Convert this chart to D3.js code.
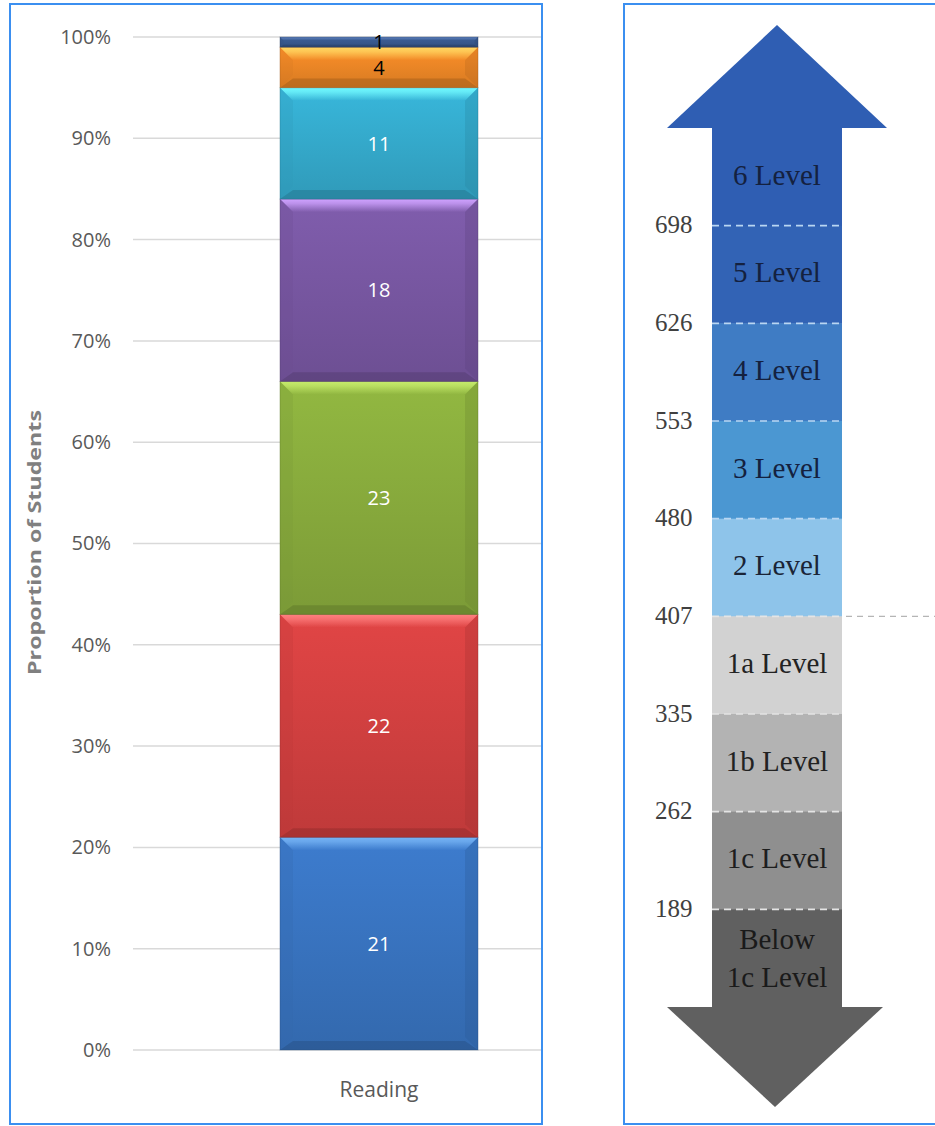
<!DOCTYPE html>
<html>
<head>
<meta charset="utf-8">
<script src="https://cdn.jsdelivr.net/npm/d3@7"></script>
<style>
html,body{margin:0;padding:0;background:#fff;}
svg{display:block;}
</style>
</head>
<body>
<svg id="chart" width="935" height="1126"></svg>
<script>
// ---------- DATA ----------
const categories = ["Reading"];
const segmentValues = [21, 22, 23, 18, 11, 4, 1];          // bottom to top, % of students
const segmentLabels = ["21", "22", "23", "18", "11", "4", "1"];
const segmentColors = ["#3a77c5", "#d84242", "#8cb03e", "#7b59a6", "#36afd2", "#f28a27", "#3a5c92"];
const segmentHighlights = ["#76b4f5", "#ff8080", "#c6ec6c", "#cfa2ff", "#72faff", "#ffd862", "#5a7cb8"];
const segmentLabelColors = ["#ffffff", "#ffffff", "#ffffff", "#ffffff", "#ffffff", "#000000", "#000000"];
const yTicks = [0, 10, 20, 30, 40, 50, 60, 70, 80, 90, 100];
const yTitle = "Proportion of Students";

const levels = ["6 Level", "5 Level", "4 Level", "3 Level", "2 Level", "1a Level", "1b Level", "1c Level", "Below 1c Level"];
const levelColors = ["#2f5eb3", "#3263b5", "#3f7cc4", "#4b97d2", "#8ec4ea", "#d2d2d2", "#b3b3b3", "#8f8f8f", "#606060"];
const levelTextColors = ["#14213f", "#14213f", "#14213f", "#14213f", "#1a2436", "#222222", "#222222", "#1e1e1e", "#1a1a1a"];
const cutScores = [698, 626, 553, 480, 407, 335, 262, 189];  // boundary below each level

// ---------- SETUP ----------
const svg = d3.select("#chart");
const defs = svg.append("defs");
const sansFont = "'Open Sans', 'DejaVu Sans', sans-serif";
const serifFont = "'Liberation Serif', 'DejaVu Serif', serif";

// ---------- LEFT PANEL ----------
const y = d3.scaleLinear().domain([0, 100]).range([1050, 37]);
const x = d3.scaleBand().domain(categories).range([133, 625]).paddingInner(0.426).paddingOuter(0.426);

const left = svg.append("g");
left.append("clipPath").attr("id", "leftClip").append("rect")
  .attr("x", 11).attr("y", 5).attr("width", 530).attr("height", 1118);

const grid = left.append("g").attr("clip-path", "url(#leftClip)");
grid.selectAll("line").data(yTicks).join("line")
  .attr("x1", 133).attr("x2", 625)
  .attr("y1", d => y(d)).attr("y2", d => y(d))
  .attr("stroke", "#d9d9d9").attr("stroke-width", 1.5);

const yAxis = d3.axisLeft(y).tickValues(yTicks).tickFormat(d => d + "%").tickSize(0).tickPadding(0);
const yg = left.append("g").attr("transform", "translate(111,0)").call(yAxis);
yg.select(".domain").remove();
yg.selectAll("text").attr("font-family", sansFont).attr("font-size", 20).attr("fill", "#595959");

left.append("text")
  .attr("transform", `translate(41,${(410 + 675) / 2}) rotate(-90)`)
  .attr("text-anchor", "middle")
  .attr("font-family", sansFont).attr("font-weight", "bold").attr("font-size", 17)
  .attr("textLength", 265).attr("lengthAdjust", "spacingAndGlyphs")
  .attr("fill", "#808080").text(yTitle);

const xAxis = d3.axisBottom(x).tickSize(0).tickPadding(0);
const xg = left.append("g").attr("transform", "translate(0,1082)").call(xAxis);
xg.select(".domain").remove();
xg.selectAll("text").attr("font-family", sansFont).attr("font-size", 21).attr("fill", "#595959").attr("dy", "0.71em");

let acc = 0;
const segs = segmentValues.map((v, i) => { const s = { i, v, y0: acc, y1: acc + v }; acc += v; return s; });

function darker(c, k) { return d3.color(c).darker(k).formatHex(); }
function brighter(c, k) { return d3.color(c).brighter(k).formatHex(); }

segs.forEach(s => {
  const g = defs.append("linearGradient").attr("id", "bodyGrad" + s.i).attr("x1", 0).attr("x2", 0).attr("y1", 0).attr("y2", 1);
  g.append("stop").attr("offset", "0%").attr("stop-color", brighter(segmentColors[s.i], 0.12));
  g.append("stop").attr("offset", "100%").attr("stop-color", darker(segmentColors[s.i], 0.35));
  const h = defs.append("linearGradient").attr("id", "hiGrad" + s.i).attr("x1", 0).attr("x2", 0).attr("y1", 0).attr("y2", 1);
  h.append("stop").attr("offset", "0%").attr("stop-color", segmentHighlights[s.i]).attr("stop-opacity", 1);
  h.append("stop").attr("offset", "35%").attr("stop-color", segmentHighlights[s.i]).attr("stop-opacity", 0.75);
  h.append("stop").attr("offset", "100%").attr("stop-color", segmentHighlights[s.i]).attr("stop-opacity", 0);
});

const bars = left.append("g");
const bx0 = x("Reading"), bw = x.bandwidth(), bx1 = bx0 + bw;
const segG = bars.selectAll("g.seg").data(segs).join("g").attr("class", "seg");

segG.append("rect")
  .attr("x", bx0).attr("width", bw)
  .attr("y", d => y(d.y1)).attr("height", d => y(d.y0) - y(d.y1))
  .attr("fill", d => `url(#bodyGrad${d.i})`);

segG.each(function(d) {
  const g = d3.select(this);
  const top = y(d.y1), bot = y(d.y0), hgt = bot - top;
  const b = Math.min(13, hgt / 3);
  g.append("polygon")
    .attr("points", [[bx0, top], [bx1, top], [bx1 - b, top + b], [bx0 + b, top + b]].map(p => p.join(",")).join(" "))
    .attr("fill", `url(#hiGrad${d.i})`);
  g.append("polygon")
    .attr("points", [[bx0, top], [bx0 + b, top + b], [bx0 + b, bot - b], [bx0, bot]].map(p => p.join(",")).join(" "))
    .attr("fill", darker(segmentColors[d.i], 0.4)).attr("opacity", 0.25);
  g.append("polygon")
    .attr("points", [[bx1, top], [bx1 - b, top + b], [bx1 - b, bot - b], [bx1, bot]].map(p => p.join(",")).join(" "))
    .attr("fill", darker(segmentColors[d.i], 0.8)).attr("opacity", 0.3);
  g.append("polygon")
    .attr("points", [[bx0, bot], [bx1, bot], [bx1 - b, bot - b * 0.7], [bx0 + b, bot - b * 0.7]].map(p => p.join(",")).join(" "))
    .attr("fill", darker(segmentColors[d.i], 1.2)).attr("opacity", 0.45);
  g.append("rect").attr("x", bx0).attr("y", top).attr("width", bw).attr("height", hgt)
    .attr("fill", "none").attr("stroke", darker(segmentColors[d.i], 1.3)).attr("stroke-opacity", 0.35).attr("stroke-width", 1);
});

segG.append("text")
  .attr("x", bx0 + bw / 2)
  .attr("y", d => (y(d.y0) + y(d.y1)) / 2)
  .attr("dy", "0.36em")
  .attr("text-anchor", "middle")
  .attr("font-family", sansFont).attr("font-size", 20)
  .attr("fill", d => segmentLabelColors[d.i])
  .text(d => segmentLabels[d.i]);

svg.append("rect").attr("x", 10).attr("y", 4).attr("width", 532).attr("height", 1120)
  .attr("fill", "none").attr("stroke", "#3b8ff0").attr("stroke-width", 2);

// ---------- RIGHT PANEL ----------
const right = svg.append("g");
const ly = d3.scaleBand().domain(levels).range([128, 1007]).padding(0);
const shaftX0 = 712, shaftX1 = 842, cx = (shaftX0 + shaftX1) / 2;
const headHalf = 110;

right.append("polygon")
  .attr("points", [[cx - headHalf, ly.range()[0]], [cx, 25], [cx + headHalf, ly.range()[0]]].map(p => p.join(",")).join(" "))
  .attr("fill", levelColors[0]);
const bottomY = ly.range()[1];
right.append("polygon")
  .attr("points", [[cx - headHalf, bottomY], [cx + headHalf - 4, bottomY], [cx - 2, 1107]].map(p => p.join(",")).join(" "))
  .attr("fill", levelColors[levels.length - 1]);

right.selectAll("rect.band").data(levels).join("rect").attr("class", "band")
  .attr("x", shaftX0).attr("width", shaftX1 - shaftX0)
  .attr("y", d => ly(d)).attr("height", ly.bandwidth() + 0.5)
  .attr("fill", (d, i) => levelColors[i]);

right.selectAll("line.cut").data(cutScores).join("line").attr("class", "cut")
  .attr("x1", shaftX0).attr("x2", shaftX1)
  .attr("y1", (d, i) => ly(levels[i]) + ly.bandwidth())
  .attr("y2", (d, i) => ly(levels[i]) + ly.bandwidth())
  .attr("stroke", (d, i) => i < 4 ? "#b9d6f2" : "#e4e4e4")
  .attr("stroke-width", 1.6).attr("stroke-dasharray", "7,5");

const idx407 = cutScores.indexOf(407);
right.append("line")
  .attr("x1", shaftX1 + 4).attr("x2", 940)
  .attr("y1", ly(levels[idx407]) + ly.bandwidth()).attr("y2", ly(levels[idx407]) + ly.bandwidth())
  .attr("stroke", "#b5b5b5").attr("stroke-width", 1.4).attr("stroke-dasharray", "6,5");

right.selectAll("text.score").data(cutScores).join("text").attr("class", "score")
  .attr("x", 655)
  .attr("y", (d, i) => ly(levels[i]) + ly.bandwidth())
  .attr("dy", "0.3em")
  .attr("font-family", serifFont).attr("font-size", 25)
  .attr("fill", "#404040")
  .text(d => d);

right.selectAll("text.level").data(levels).join("text").attr("class", "level")
  .attr("x", cx)
  .attr("y", d => ly(d) + ly.bandwidth() / 2)
  .attr("text-anchor", "middle")
  .attr("font-family", serifFont).attr("font-size", 29)
  .attr("fill", (d, i) => levelTextColors[i])
  .each(function(d) {
    const t = d3.select(this);
    if (d === "Below 1c Level") {
      t.append("tspan").attr("x", cx).attr("dy", "-0.3em").text("Below");
      t.append("tspan").attr("x", cx).attr("dy", "1.3em").text("1c Level");
    } else {
      t.attr("dy", "0.27em").text(d);
    }
  });

svg.append("rect").attr("x", 624).attr("y", 4).attr("width", 330).attr("height", 1120)
  .attr("fill", "none").attr("stroke", "#3b8ff0").attr("stroke-width", 2);
</script>
</body>
</html>
